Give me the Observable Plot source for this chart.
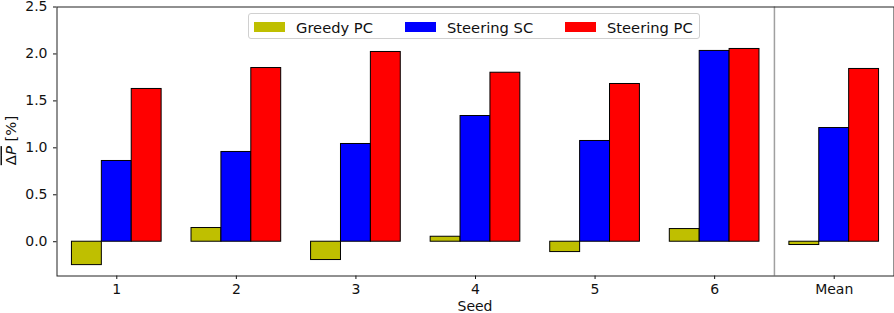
<!DOCTYPE html>
<html>
<head>
<meta charset="utf-8">
<script src="https://cdn.jsdelivr.net/npm/d3@7"></script>
<script src="https://cdn.jsdelivr.net/npm/@observablehq/plot@0.6"></script>
<style>
  html, body { margin: 0; padding: 0; background: white; }
  #wrap { position: relative; width: 894px; height: 313px; font-family: "DejaVu Sans", sans-serif; }
  #legend { position: absolute; left: 248px; top: 13px; width: 452px; height: 26px;
    border: 1px solid #d0d0d0; border-radius: 3px; background: rgba(255,255,255,0.8);
    box-sizing: border-box; font-size: 14.7px; color: #111; }
  .item { position: absolute; top: 0; height: 26px; display: flex; align-items: center; }
  .sw { width: 31px; height: 10.5px; margin-right: 11px; }
</style>
</head>
<body>
<div id="wrap"><div id="legend"></div></div>
<script>
const seeds = ["1", "2", "3", "4", "5", "6", "Mean"];
const greedyPC   = [-0.249, 0.146, -0.195, 0.053, -0.110, 0.135, -0.035];
const steeringSC = [0.860, 0.956, 1.041, 1.339, 1.073, 2.032, 1.211];
const steeringPC = [1.627, 1.850, 2.021, 1.800, 1.680, 2.053, 1.840];
const seriesNames = ["Greedy PC", "Steering SC", "Steering PC"];
const seriesColors = ["#bfbf00", "#0000ff", "#ff0000"];
const yTicks = [0, 0.5, 1.0, 1.5, 2.0, 2.5];

const seriesValues = [greedyPC, steeringSC, steeringPC];
const barW = 0.25;
const data = [];
seeds.forEach((s, i) => {
  seriesValues.forEach((vals, j) => {
    const c = i + 1 + (j - 1) * barW;
    data.push({seed: s, series: seriesNames[j], x1: c - barW / 2, x2: c + barW / 2, v: vals[i]});
  });
});

const svg = Plot.plot({
  width: 894,
  height: 313,
  marginLeft: 56.5,
  marginRight: 0.5,
  marginTop: 6.5,
  marginBottom: 37.5,
  style: {fontFamily: "DejaVu Sans, sans-serif", fontSize: "14px", color: "#111", background: "white"},
  x: {type: "linear", domain: [0.5, 7.5], ticks: seeds.map((_, i) => i + 1),
      tickFormat: d => seeds[d - 1], tickSize: 3.5, tickPadding: 5, label: null},
  y: {domain: [-0.365, 2.5], ticks: yTicks, tickFormat: d3.format(".1f"),
      tickSize: 3.5, tickPadding: 6, label: null},
  color: {domain: seriesNames, range: seriesColors},
  marks: [
    Plot.rect(data, {x1: "x1", x2: "x2", y1: () => 0, y2: "v", fill: "series", stroke: "black", strokeWidth: 1}),
    Plot.ruleX([seeds.length - 0.5], {stroke: "#a0a0a0", strokeWidth: 1.5}),
    Plot.frame({stroke: "#222", strokeWidth: 1})
  ]
});

const s = d3.select(svg);
const yl = s.append("text")
  .attr("transform", "translate(15.5,140.5) rotate(-90)")
  .attr("text-anchor", "middle")
  .attr("fill", "#111")
  .style("font-size", "14.8px");
yl.append("tspan").style("text-decoration", "overline").text("Δ");
yl.append("tspan").attr("font-style", "italic").style("text-decoration", "overline").text("P");
yl.append("tspan").text(" [%]");

s.append("text")
  .attr("x", 475).attr("y", 311)
  .attr("text-anchor", "middle")
  .attr("fill", "#111")
  .style("font-size", "14px")
  .text("Seed");

svg.style.position = "absolute";
svg.style.left = "0";
svg.style.top = "0";
const wrap = document.getElementById("wrap");
wrap.insertBefore(svg, wrap.firstChild);

const legend = document.getElementById("legend");
const itemLeft = [5, 156, 316];
seriesNames.forEach((name, j) => {
  const it = document.createElement("div");
  it.className = "item";
  it.style.left = itemLeft[j] + "px";
  const sw = document.createElement("div");
  sw.className = "sw";
  sw.style.background = seriesColors[j];
  it.appendChild(sw);
  const t = document.createElement("span");
  t.textContent = name;
  it.appendChild(t);
  legend.appendChild(it);
});
</script>
</body>
</html>
